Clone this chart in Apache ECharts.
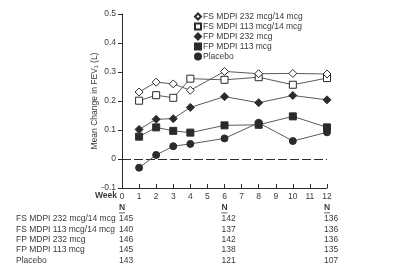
<!DOCTYPE html>
<html>
<head>
<meta charset="utf-8">
<script src="https://cdn.jsdelivr.net/npm/echarts@6/dist/echarts.min.js"></script>
<style>
    html, body { margin: 0; background: #fff; }
    #chart { width: 400px; height: 267px; }
</style>
</head>
<body>
<div id="chart"></div>
<script>
/**
 * data
 */
const weeks = [1, 2, 3, 4, 6, 8, 10, 12];
const seriesNames = ['FS MDPI 232 mcg/14 mcg', 'FS MDPI 113 mcg/14 mcg', 'FP MDPI 232 mcg', 'FP MDPI 113 mcg', 'Placebo'];
const fs232 = [0.231, 0.265, 0.259, 0.237, 0.302, 0.294, 0.295, 0.293];
const fs113 = [0.201, 0.220, 0.211, 0.277, 0.273, 0.282, 0.256, 0.279];
const fp232 = [0.102, 0.137, 0.139, 0.178, 0.215, 0.194, 0.219, 0.204];
const fp113 = [0.077, 0.109, 0.097, 0.091, 0.116, 0.118, 0.147, 0.109];
const placebo = [-0.030, 0.014, 0.044, 0.052, 0.071, 0.125, 0.062, 0.092];
const nWeeks = [0, 6, 12];
const nCounts = [
    [145, 142, 136],
    [140, 137, 136],
    [146, 142, 136],
    [145, 138, 135],
    [143, 121, 107],
];

const font = "'Liberation Sans', Arial, sans-serif";
const fontSize = 8.5;
const ink = '#2b2b2b';
const textGrey = '#3a3a3a';
const lineGrey = '#5a5a5a';

// symbol styles, same order as seriesNames
const marks = [
    { symbol: 'diamond', size: 8, fill: '#fff' },
    { symbol: 'rect', size: 7, fill: '#fff' },
    { symbol: 'diamond', size: 8, fill: ink },
    { symbol: 'rect', size: 7, fill: ink },
    { symbol: 'circle', size: 7, fill: ink },
];
const values = [fs232, fs113, fp232, fp113, placebo];

const series = values.map((vals, i) => ({
    name: seriesNames[i],
    type: 'line',
    data: weeks.map((w, j) => [w, vals[j]]),
    symbol: marks[i].symbol,
    symbolSize: marks[i].size,
    z: 10 - i,
    lineStyle: { color: lineGrey, width: 1 },
    itemStyle: { color: marks[i].fill, borderColor: ink, borderWidth: 1 },
    emphasis: { disabled: true },
}));

// zero reference line
series[4].markLine = {
    silent: true,
    symbol: 'none',
    label: { show: false },
    lineStyle: { color: ink, width: 1, type: [9, 3] },
    data: [{ yAxis: 0 }],
};

const chart = echarts.init(document.getElementById('chart'));

chart.setOption({
    animation: false,
    textStyle: { fontFamily: font },
    grid: { left: 122, right: 73, top: 14, bottom: 79 },
    legend: {
        orient: 'vertical',
        left: 189,
        top: 7,
        itemWidth: 6,
        itemHeight: 6,
        itemGap: 1,
        textStyle: { fontSize: fontSize, color: textGrey, fontFamily: font, padding: [0, 0, 0, -3] },
        data: seriesNames.map((n, i) => ({ name: n, icon: marks[i].symbol })),
    },
    xAxis: {
        type: 'value',
        min: 0,
        max: 12,
        interval: 1,
        splitLine: { show: false },
        axisLine: { onZero: false, lineStyle: { color: ink } },
        axisTick: { inside: true, length: 4, lineStyle: { color: ink } },
        axisLabel: { color: textGrey, fontSize: fontSize, margin: 4, fontFamily: font },
    },
    yAxis: {
        type: 'value',
        min: -0.1,
        max: 0.5,
        interval: 0.1,
        name: 'Mean Change in FEV\u2081 (L)',
        nameLocation: 'middle',
        nameGap: 23,
        nameMoveOverlap: false,
        nameTextStyle: { color: textGrey, fontSize: fontSize, fontFamily: font },
        splitLine: { show: false },
        axisLine: { show: true, lineStyle: { color: ink } },
        axisTick: { show: true, length: 4, lineStyle: { color: ink } },
        axisLabel: { color: textGrey, fontSize: fontSize, margin: 6, fontFamily: font },
    },
    series: series,
});

/**
 * N table under the axis, columns placed on the week scale
 */
const rowTop = 219;
const rowStep = 10.3;
const graphics = [
    {
        type: 'text',
        x: 117,
        y: 196,
        style: { text: 'Week', fill: textGrey, font: 'bold ' + fontSize + 'px ' + font, align: 'right', verticalAlign: 'middle' },
    },
];
nWeeks.forEach((w, c) => {
    const x = chart.convertToPixel({ gridIndex: 0 }, [w, 0])[0] - 3;
    graphics.push({
        type: 'text',
        x: x,
        y: 208,
        style: { text: 'N', fill: textGrey, font: 'bold ' + fontSize + 'px ' + font, verticalAlign: 'middle' },
    });
    graphics.push({
        type: 'rect',
        shape: { x: x, y: 212.5, width: 6, height: 0.8 },
        style: { fill: textGrey },
    });
    nCounts.forEach((row, r) => {
        graphics.push({
            type: 'text',
            x: x,
            y: rowTop + r * rowStep,
            style: { text: String(row[c]), fill: textGrey, font: fontSize + 'px ' + font, verticalAlign: 'middle' },
        });
    });
});
seriesNames.forEach((n, r) => {
    graphics.push({
        type: 'text',
        x: 16,
        y: rowTop + r * rowStep,
        style: { text: n, fill: textGrey, font: fontSize + 'px ' + font, verticalAlign: 'middle' },
    });
});
chart.setOption({ graphic: graphics });
</script>
</body>
</html>
